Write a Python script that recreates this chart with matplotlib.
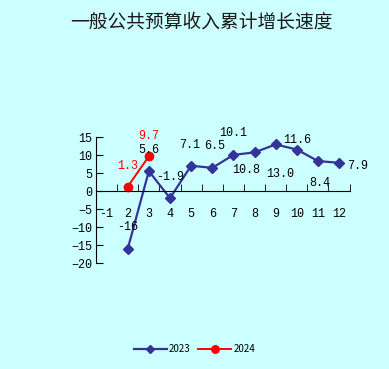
import matplotlib.pyplot as plt
import numpy as np

plt.rcParams['font.family'] = ['Noto Sans CJK SC', 'DejaVu Sans']

# data
months = [1, 2, 3, 4, 5, 6, 7, 8, 9, 10, 11, 12]
month_labels = ['-1', '2', '3', '4', '5', '6', '7', '8', '9', '10', '11', '12']
months_2023 = [2, 3, 4, 5, 6, 7, 8, 9, 10, 11, 12]
growth_2023 = [-16, 5.6, -1.9, 7.1, 6.5, 10.1, 10.8, 13.0, 11.6, 8.4, 7.9]
text_2023 = ['-16', '5.6', '-1.9', '7.1', '6.5', '10.1', '10.8', '13.0', '11.6', '8.4', '7.9']
months_2024 = [2, 3]
growth_2024 = [1.3, 9.7]
text_2024 = ['1.3', '9.7']

# label offsets in points (label placement only)
off_2023 = [(0, 16), (0, 15), (0, 15), (-1, 15), (1.5, 16), (0, 16),
            (-6, -13), (3, -21), (0, 7), (1, -16), (13, -2)]
off_2024 = [(0, 15), (0, 15)]

bg = '#ccffff'
Figure = plt.figure(figsize=(3.89, 3.69), dpi=100, facecolor=bg)
axes = Figure.add_axes([0.2468, 0.2864, 0.652, 0.3416], facecolor=bg)

l1, = axes.plot(months_2023, growth_2023, color='#333399', lw=1.6,
                marker='D', markersize=5, label='2023')
l2, = axes.plot(months_2024, growth_2024, color='red', lw=1.4,
                marker='o', markersize=6, label='2024')

mono = 'Liberation Mono'
for m, v, t, o in zip(months_2023, growth_2023, text_2023, off_2023):
    axes.annotate(t, (m, v), xytext=o, textcoords='offset points',
                  ha='center', va='center', fontsize=8.5, family=mono, color='black')
for m, v, t, o in zip(months_2024, growth_2024, text_2024, off_2024):
    axes.annotate(t, (m, v), xytext=o, textcoords='offset points',
                  ha='center', va='center', fontsize=8.5, family=mono, color='red')

axes.set_xlim(0.5, 12.5)
axes.set_ylim(-20, 15)
axes.set_yticks(np.arange(-20, 16, 5))
axes.set_xticks(months)
axes.set_xticklabels(month_labels)
axes.set_xticks(np.arange(0.5, 13, 1), minor=True)

axes.spines['top'].set_visible(False)
axes.spines['right'].set_visible(False)
axes.spines['bottom'].set_position(('data', 0))
axes.tick_params(axis='x', which='major', length=0, pad=12, labelsize=8.5)
axes.tick_params(axis='x', which='minor', direction='in', length=5)
axes.tick_params(axis='y', direction='in', length=5, pad=3, labelsize=8.5)
for lab in axes.get_xticklabels() + axes.get_yticklabels():
    lab.set_family(mono)

Figure.text(0.517, 0.94, '一般公共预算收入累计增长速度', ha='center', va='center',
            fontsize=13.5, color='#1a1a1a')

Figure.legend(handles=[l1, l2], loc='center', bbox_to_anchor=(0.5, 0.054),
              ncol=2, frameon=False, fontsize=7, handlelength=3.4,
              columnspacing=0.8, handletextpad=0.2, markerscale=0.9)

Figure.savefig('out.png', dpi=100, facecolor=bg)
